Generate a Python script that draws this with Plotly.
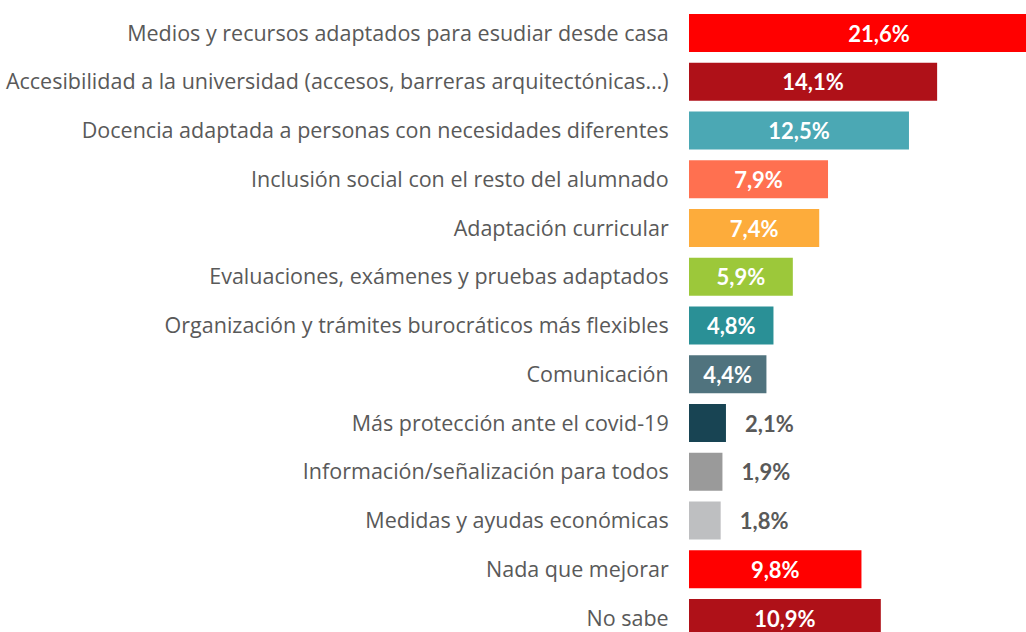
import plotly.graph_objects as go

# Survey answers: what should the university improve
categories = [
    "Medios y recursos adaptados para esudiar desde casa",
    "Accesibilidad a la universidad (accesos, barreras arquitectónicas…)",
    "Docencia adaptada a personas con necesidades diferentes",
    "Inclusión social con el resto del alumnado",
    "Adaptación curricular",
    "Evaluaciones, exámenes y pruebas adaptados",
    "Organización y trámites burocráticos más flexibles",
    "Comunicación",
    "Más protección ante el covid-19",
    "Información/señalización para todos",
    "Medidas y ayudas económicas",
    "Nada que mejorar",
    "No sabe",
]
values = [21.6, 14.1, 12.5, 7.9, 7.4, 5.9, 4.8, 4.4, 2.1, 1.9, 1.8, 9.8, 10.9]
colors = [
    "#FF0000", "#AF1118", "#4BA8B4", "#FF7050", "#FDAC3B", "#9CC83A",
    "#2A9096", "#50737E", "#184453", "#9A9A9A", "#BEBFC1", "#FF0000", "#AF1118",
]

# Short bars get their value written just past the end of the bar
inside = [v >= 4 for v in values]
text_pos = ["inside" if i else "outside" for i in inside]
text_col = ["#FFFFFF" if i else "#595959" for i in inside]
templates = ["%{x:.1f}%" if i else "\u00a0\u00a0\u00a0%{x:.1f}%" for i in inside]

idx = list(range(len(categories)))

fig = go.Figure(
    go.Bar(
        x=values,
        y=idx,
        orientation="h",
        marker=dict(color=colors, line=dict(width=0)),
        texttemplate=templates,
        textposition=text_pos,
        insidetextanchor="middle",
        textangle=0,
        constraintext="none",
        cliponaxis=True,
        textfont=dict(family="Lato", size=22, color=text_col, weight="bold"),
        hoverinfo="skip",
    )
)

fig.update_layout(
    width=1026,
    height=632,
    margin=dict(l=689, r=0, t=0, b=0),
    paper_bgcolor="white",
    plot_bgcolor="white",
    separators=",.",
    bargap=0.22,
    showlegend=False,
    xaxis=dict(
        range=[0, 19.15],
        visible=False,
        fixedrange=True,
    ),
    yaxis=dict(
        range=[12.287, -0.677],
        tickmode="array",
        tickvals=idx,
        ticktext=categories,
        ticks="outside",
        ticklen=15,
        tickcolor="rgba(0,0,0,0)",
        tickfont=dict(family="Open Sans", size=21.5, color="#595959"),
        showgrid=False,
        zeroline=False,
        showline=False,
    ),
)

fig.write_html("out.html")
